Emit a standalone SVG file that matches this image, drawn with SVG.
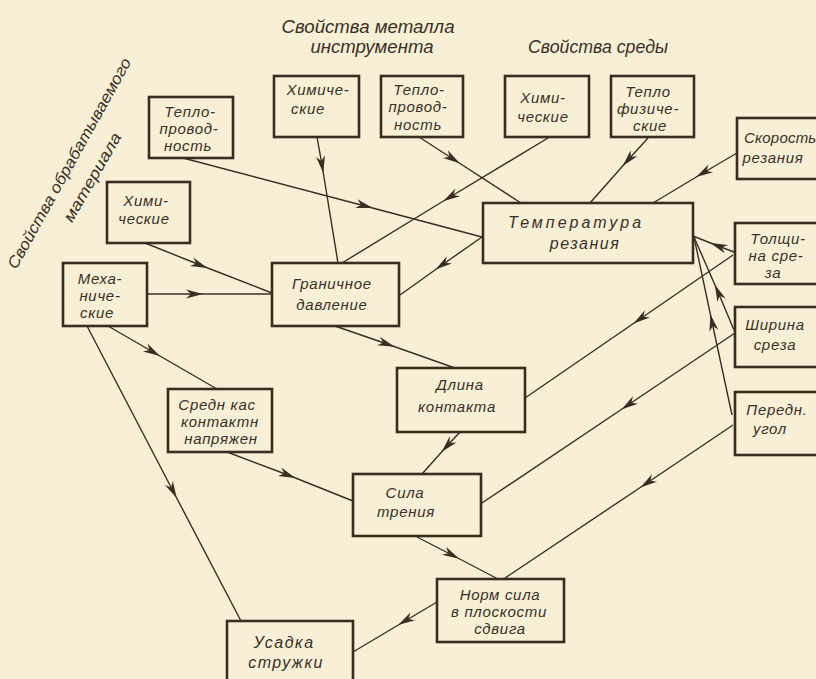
<svg xmlns="http://www.w3.org/2000/svg" width="816" height="679" viewBox="0 0 816 679">
<defs>
<marker id="ah" markerUnits="userSpaceOnUse" markerWidth="22" markerHeight="12" viewBox="-11 -6 22 12" refX="0" refY="0" orient="auto">
<path d="M8,0 L-9,-4.5 L-4,0 L-9,4.5 Z" fill="#3a2e22"/>
</marker>
<style>
.bg{fill:#f7efd6}
.box{fill:none;stroke:#3a2d20;stroke-width:2.6}
.c polyline{fill:none;stroke:#3a2e22;stroke-width:1.4;marker-mid:url(#ah)}
text{font-family:"Liberation Sans","DejaVu Sans",sans-serif;font-style:italic;font-size:15px;letter-spacing:0.7px;fill:#3b3025;text-anchor:middle}
.h{font-size:18px;letter-spacing:0}
.r{font-size:16px;letter-spacing:0}
.big{font-size:16px;letter-spacing:1.5px}
</style>
</defs>
<rect class="bg" x="0" y="0" width="816" height="679"/>

<g id="titles">
<text class="h" x="368" y="33" textLength="173" lengthAdjust="spacingAndGlyphs">Свойства металла</text>
<text class="h" x="372" y="53" textLength="123" lengthAdjust="spacingAndGlyphs">инструмента</text>
<text class="h" x="598" y="53" textLength="140" lengthAdjust="spacingAndGlyphs">Свойства среды</text>
<text class="r" transform="translate(74,166) rotate(-61)" x="0" y="0" textLength="238" lengthAdjust="spacingAndGlyphs">Свойства обрабатываемого</text>
<text class="r" transform="translate(97,180) rotate(-60)" x="0" y="0" textLength="100" lengthAdjust="spacingAndGlyphs">материала</text>
</g>

<g class="c" id="connectors">
<polyline points="183,158 365,206 482,237"/>
<polyline points="145,243 200,265 272,293"/>
<polyline points="147,294 195,294 272,294"/>
<polyline points="108,326 153,352 217,389"/>
<polyline points="87,326 173,491 241,621"/>
<polyline points="317,137 322,165 338,263"/>
<polyline points="419,137 453,159 521,203"/>
<polyline points="548,138 450,197 342,263"/>
<polyline points="648,138 628,160 590,203"/>
<polyline points="737,153 703,173 653,203"/>
<polyline points="482,237 442,265 400,295"/>
<polyline points="335,326 387,344 455,368"/>
<polyline points="734,252 718,246 693,236"/>
<polyline points="733,255 640,319 525,398"/>
<polyline points="735,333 628,405 482,503"/>
<polyline points="734,330 718,292 694,237"/>
<polyline points="732,415 712,322 694,237"/>
<polyline points="733,425 647,483 505,578"/>
<polyline points="460,432 447,446 422,474"/>
<polyline points="227,452 288,475 353,501"/>
<polyline points="417,537 452,555 498,579"/>
<polyline points="437,602 405,621 353,652"/>
</g>

<g id="n-teplo-mat">
<rect class="box" x="149" y="97" width="84" height="61"/>
<text x="190" y="117">Тепло-</text>
<text x="189" y="134">провод-</text>
<text x="188" y="151">ность</text>
</g>
<g id="n-khim-mat">
<rect class="box" x="107" y="182" width="83" height="61"/>
<text x="146" y="206">Хими-</text>
<text x="144" y="224">ческие</text>
</g>
<g id="n-mekh">
<rect class="box" x="63" y="263" width="84" height="63"/>
<text x="100" y="284">Меха-</text>
<text x="100" y="301">ниче-</text>
<text x="97" y="318">ские</text>
</g>
<g id="n-granich">
<rect class="box" x="272" y="263" width="127" height="63"/>
<text x="332" y="289">Граничное</text>
<text x="332" y="310">давление</text>
</g>
<g id="n-sredn">
<rect class="box" x="168" y="389" width="104" height="63"/>
<text x="217" y="410">Средн кас</text>
<text x="220" y="427">контактн</text>
<text x="221" y="444">напряжен</text>
</g>
<g id="n-dlina">
<rect class="box" x="397" y="368" width="128" height="64"/>
<text x="460" y="390">Длина</text>
<text x="457" y="412">контакта</text>
</g>
<g id="n-sila">
<rect class="box" x="353" y="474" width="128" height="62"/>
<text x="405" y="498">Сила</text>
<text x="406" y="517">трения</text>
</g>
<g id="n-norm">
<rect class="box" x="437" y="579" width="127" height="63"/>
<text x="500" y="600">Норм сила</text>
<text x="499" y="617">в плоскости</text>
<text x="500" y="634">сдвига</text>
</g>
<g id="n-usadka">
<rect class="box" x="227" y="621" width="126" height="66"/>
<text class="big" x="284" y="648">Усадка</text>
<text class="big" x="286" y="668">стружки</text>
</g>
<g id="n-khim-instr">
<rect class="box" x="274" y="76" width="85" height="61"/>
<text x="318" y="95">Химиче-</text>
<text x="308" y="114">ские</text>
</g>
<g id="n-teplo-instr">
<rect class="box" x="381" y="76" width="82" height="61"/>
<text x="419" y="95">Тепло-</text>
<text x="418" y="112">провод-</text>
<text x="418" y="130">ность</text>
</g>
<g id="n-khim-sred">
<rect class="box" x="505" y="76" width="84" height="61"/>
<text x="543" y="103">Хими-</text>
<text x="543" y="122">ческие</text>
</g>
<g id="n-teplofiz">
<rect class="box" x="611" y="76" width="83" height="61"/>
<text x="648" y="97">Тепло</text>
<text x="648" y="114">физиче-</text>
<text x="650" y="131">ские</text>
</g>
<g id="n-temp">
<rect class="box" x="483" y="203" width="210" height="60"/>
<text class="big" x="576" y="228" style="letter-spacing:3px">Температура</text>
<text class="big" x="585" y="249">резания</text>
</g>
<g id="n-skorost">
<rect class="box" x="737" y="118" width="95" height="61"/>
<text x="744" y="143" style="text-anchor:start;letter-spacing:0.2px">Скорость</text>
<text x="773" y="163">резания</text>
</g>
<g id="n-tolshch">
<rect class="box" x="735" y="223" width="95" height="61"/>
<text x="778" y="244">Толщи-</text>
<text x="776" y="261">на сре-</text>
<text x="773" y="278">за</text>
</g>
<g id="n-shirina">
<rect class="box" x="735" y="307" width="95" height="60"/>
<text x="775" y="330">Ширина</text>
<text x="775" y="350">среза</text>
</g>
<g id="n-peredn">
<rect class="box" x="735" y="392" width="95" height="63"/>
<text x="777" y="415">Передн.</text>
<text x="770" y="434">угол</text>
</g>
</svg>
